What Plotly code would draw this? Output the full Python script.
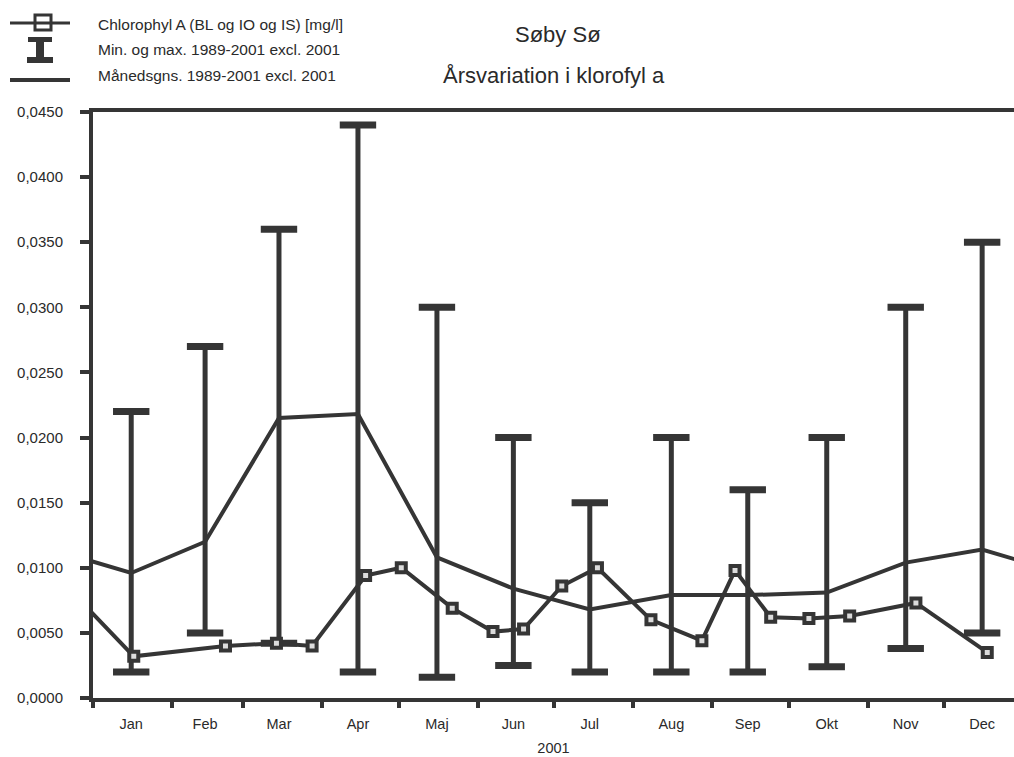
import plotly.graph_objects as go

# ---------------- data ----------------
months = ["Jan", "Feb", "Mar", "Apr", "Maj", "Jun", "Jul", "Aug", "Sep", "Okt", "Nov", "Dec"]
month_mid = ["2001-01-16", "2001-02-14", "2001-03-15", "2001-04-15", "2001-05-16", "2001-06-15",
             "2001-07-15", "2001-08-16", "2001-09-15", "2001-10-16", "2001-11-16", "2001-12-16"]

# Min. og max. 1989-2001 excl. 2001
min_vals = [0.0020, 0.0050, 0.0042, 0.0020, 0.0016, 0.0025, 0.0020, 0.0020, 0.0020, 0.0024, 0.0038, 0.0050]
max_vals = [0.0220, 0.0270, 0.0360, 0.0440, 0.0300, 0.0200, 0.0150, 0.0200, 0.0160, 0.0200, 0.0300, 0.0350]

# Månedsgns. 1989-2001 excl. 2001 (periodic over the year)
mean_vals = [0.0096, 0.0120, 0.0215, 0.0218, 0.0108, 0.0084, 0.0068, 0.0079, 0.0079, 0.0081, 0.0104, 0.0114]

# Chlorophyl A (BL og IO og IS) [mg/l], 2001 measurements (first one is late 2000, outside the axis)
chl_dates = ["2000-12-20", "2001-01-17", "2001-02-22", "2001-03-14", "2001-03-28", "2001-04-18",
             "2001-05-02", "2001-05-22", "2001-06-07", "2001-06-19", "2001-07-04", "2001-07-18",
             "2001-08-08", "2001-08-28", "2001-09-10", "2001-09-24", "2001-10-09", "2001-10-25",
             "2001-11-20", "2001-12-18"]
chl_vals = [0.0089, 0.0032, 0.0040, 0.0042, 0.0040, 0.0094,
            0.0100, 0.0069, 0.0051, 0.0053, 0.0086, 0.0100,
            0.0060, 0.0044, 0.0098, 0.0062, 0.0061, 0.0063,
            0.0073, 0.0035]

y_ticks = [0.0, 0.005, 0.010, 0.015, 0.020, 0.025, 0.030, 0.035, 0.040, 0.045]

title1 = "Søby Sø"
title2 = "Årsvariation i klorofyl a"
legend_texts = ["Chlorophyl A (BL og IO og IS) [mg/l]",
                "Min. og max. 1989-2001 excl. 2001",
                "Månedsgns. 1989-2001 excl. 2001"]
x_title = "2001"

# ---------------- styling ----------------
W, H = 1014, 757
ML, MR, MT, MB = 93, 0, 112, 59
C = "#353535"
TXT = "#2a2a2a"
FONT = "Liberation Sans, Arial, sans-serif"


def px(x):
    return (x - ML) / (W - ML - MR)


def py(y):
    return (H - MB - y) / (H - MT - MB)


fig = go.Figure()

# monthly mean line (wraps around the year)
mean_x = ["2000-12-16"] + month_mid + ["2002-01-16"]
mean_y = [mean_vals[-1]] + mean_vals + [mean_vals[0]]
fig.add_trace(go.Scatter(x=mean_x, y=mean_y, mode="lines",
                         line=dict(color=C, width=4), showlegend=False, hoverinfo="skip"))

# min-max bars
bx, by = [], []
for d, lo, hi in zip(month_mid, min_vals, max_vals):
    bx += [d, d, None]
    by += [lo, hi, None]
fig.add_trace(go.Scatter(x=bx, y=by, mode="lines+markers",
                         line=dict(color=C, width=5),
                         marker=dict(symbol="line-ew", size=26, line=dict(color=C, width=7)),
                         showlegend=False, hoverinfo="skip"))

# chlorophyll measurements
fig.add_trace(go.Scatter(x=chl_dates, y=chl_vals, mode="lines+markers",
                         line=dict(color=C, width=4),
                         marker=dict(symbol="square", size=9, color="#dcdcdc",
                                     line=dict(color=C, width=4)),
                         showlegend=False, hoverinfo="skip"))

# ---------------- manual legend ----------------
shapes = []
annotations = []
# item 1: line with square
shapes.append(dict(type="line", xref="paper", yref="paper", x0=px(10), x1=px(70), y0=py(23), y1=py(23),
                   line=dict(color=C, width=3)))
shapes.append(dict(type="rect", xref="paper", yref="paper", x0=px(35), x1=px(51), y0=py(15), y1=py(30),
                   fillcolor="rgba(0,0,0,0)", line=dict(color=C, width=3)))
# item 2: I-shaped bar
shapes.append(dict(type="rect", xref="paper", yref="paper", x0=px(28), x1=px(52), y0=py(37), y1=py(42),
                   fillcolor=C, line=dict(width=0)))
shapes.append(dict(type="rect", xref="paper", yref="paper", x0=px(36), x1=px(44), y0=py(42), y1=py(57),
                   fillcolor=C, line=dict(width=0)))
shapes.append(dict(type="rect", xref="paper", yref="paper", x0=px(27), x1=px(53), y0=py(57), y1=py(63),
                   fillcolor=C, line=dict(width=0)))
# item 3: plain line
shapes.append(dict(type="line", xref="paper", yref="paper", x0=px(10), x1=px(70), y0=py(80), y1=py(80),
                   line=dict(color=C, width=4)))

for txt, yc in zip(legend_texts, [25, 50, 76]):
    annotations.append(dict(text=txt, xref="paper", yref="paper", x=px(96), y=py(yc),
                            xanchor="left", yanchor="middle", showarrow=False,
                            font=dict(family=FONT, size=15.5, color=TXT)))

annotations.append(dict(text=title1, xref="paper", yref="paper", x=px(558), y=py(35),
                        xanchor="center", yanchor="middle", showarrow=False,
                        font=dict(family=FONT, size=22, color=TXT)))
annotations.append(dict(text=title2, xref="paper", yref="paper", x=px(554), y=py(75),
                        xanchor="center", yanchor="middle", showarrow=False,
                        font=dict(family=FONT, size=22, color=TXT)))

fig.update_layout(
    width=W, height=H,
    margin=dict(l=ML, r=MR, t=MT, b=MB),
    paper_bgcolor="white", plot_bgcolor="white",
    separators=",.",
    shapes=shapes, annotations=annotations,
    showlegend=False,
    font=dict(family=FONT, color=TXT),
)

fig.update_xaxes(
    type="date",
    range=["2001-01-01", "2001-12-28 12:00"],
    tickmode="array", tickvals=month_mid, ticktext=months,
    ticks="", showgrid=False, zeroline=False,
    showline=True, linecolor=C, linewidth=4, mirror=True,
    tickfont=dict(family=FONT, size=14.5, color=TXT),
    ticklabelstandoff=10,
    minor=dict(ticks="outside", ticklen=6, tickwidth=3.5, tickcolor=C,
               dtick="M1", tick0="2001-01-01", showgrid=False),
    title=dict(text=x_title, font=dict(family=FONT, size=14.5, color=TXT), standoff=12),
)

fig.update_yaxes(
    range=[0, 0.045],
    tickmode="array", tickvals=y_ticks, tickformat=".4f",
    ticks="outside", ticklen=9, tickwidth=4, tickcolor=C,
    showgrid=False, zeroline=False,
    showline=True, linecolor=C, linewidth=4,
    tickfont=dict(family=FONT, size=15, color=TXT),
    ticklabelstandoff=14,
)

fig.write_html("out.html")
